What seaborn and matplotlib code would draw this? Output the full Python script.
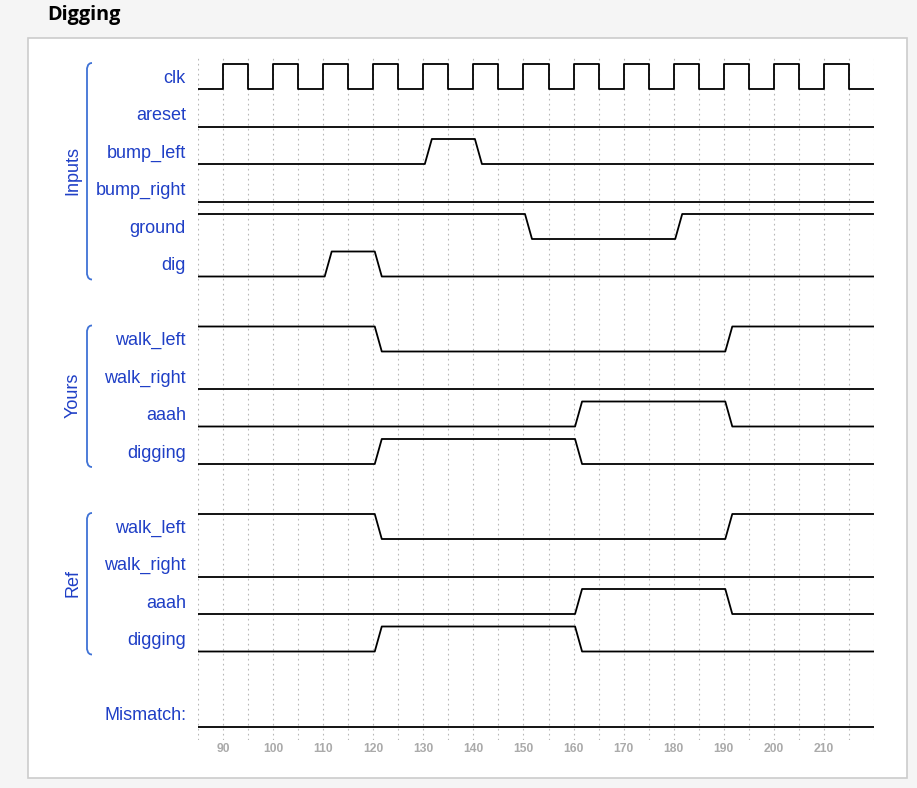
import numpy as np
import pandas as pd
import seaborn as sns
import matplotlib.pyplot as plt
from matplotlib.patches import Rectangle, PathPatch
from matplotlib.path import Path

# ---- data ----
clk_times = [90, 95, 100, 105, 110, 115, 120, 125, 130, 135, 140, 145, 150, 155,
             160, 165, 170, 175, 180, 185, 190, 195, 200, 205, 210, 215]

signal_names = ["clk", "areset", "bump_left", "bump_right", "ground", "dig",
                "walk_left", "walk_right", "aaah", "digging",
                "walk_left", "walk_right", "aaah", "digging",
                "Mismatch:"]
signal_rows = [0, 1, 2, 3, 4, 5, 7, 8, 9, 10, 12, 13, 14, 15, 17]
signal_init = [0, 0, 0, 0, 1, 0, 1, 0, 0, 0, 1, 0, 0, 0, 0]
signal_toggles = [clk_times, [], [130, 140], [], [150, 180], [110, 120],
                  [120, 190], [], [160, 190], [120, 160],
                  [120, 190], [], [160, 190], [120, 160],
                  []]
groups = ["Inputs", "Yours", "Ref"]
group_rows = [(0, 5), (7, 10), (12, 15)]

t_start, t_end = 85, 220
xtick_vals = [90, 100, 110, 120, 130, 140, 150, 160, 170, 180, 190, 200, 210]

AMP = 25 / 37.5      # height of a "1" in row units
ROW_PX = 37.5
ROW0_PX = 89         # pixel y of row 0 low level
LBL = "#1f3fc6"
BRC = "#3f72d6"

sns.set_style("white")
plt.rcParams["font.family"] = ["Liberation Sans", "DejaVu Sans"]

W, H = 917, 788
fig = plt.figure(figsize=(W / 100, H / 100), dpi=100)
fig.patch.set_facecolor("#f5f5f5")

# overlay axes in pixel coordinates for frame, title, braces
ov = fig.add_axes([0, 0, 1, 1], zorder=0)
ov.set_xlim(0, W)
ov.set_ylim(H, 0)
ov.axis("off")
ov.add_patch(Rectangle((27.5, 37.5), 879, 740, facecolor="white",
                       edgecolor="#cccccc", lw=1.2))
ov.text(47, 15, "Digging", fontsize=14.3, fontweight="bold", family="Open Sans",
        ha="left", va="center", color="black")

# build the waveform table
rows = []
for k, (name, r, v0, tog) in enumerate(zip(signal_names, signal_rows, signal_init, signal_toggles)):
    v = v0
    pts = [(t_start, v)]
    for t in tog:
        if name == "clk":
            pts.append((t, v))
            v = 1 - v
            pts.append((t, v))
        else:
            pts.append((t + 0.3, v))
            v = 1 - v
            pts.append((t + 1.7, v))
    pts.append((t_end, v))
    for i, (t, val) in enumerate(pts):
        rows.append({"sig": k, "order": i, "t": t, "y": r - val * AMP})
df = pd.DataFrame(rows)

top_px, bot_px = 58, 740
ax = fig.add_axes([198 / W, 1 - bot_px / H, (874 - 198) / W, (bot_px - top_px) / H], zorder=1)
ax.set_facecolor("none")
sns.lineplot(data=df, x="t", y="y", units="sig", estimator=None, sort=False,
             color="black", lw=1.3, ax=ax, legend=False)
ax.set_xlim(t_start, t_end)
ax.set_ylim((bot_px - ROW0_PX) / ROW_PX, (top_px - ROW0_PX) / ROW_PX)
ax.set_xticks(xtick_vals)
ax.set_xticks(np.arange(t_start, t_end + 1, 5), minor=True)
ax.set_yticks([])
ax.set_xlabel("")
ax.set_ylabel("")
ax.grid(True, which="both", axis="x", color="#b8b8b8", ls=(0, (1.5, 3)), lw=0.8)
ax.tick_params(axis="x", which="both", length=0, pad=2, labelsize=8.7,
               labelcolor="#aaaaaa")
for lab in ax.get_xticklabels():
    lab.set_fontweight("bold")
for s in ax.spines.values():
    s.set_visible(False)

# signal labels
for name, r in zip(signal_names, signal_rows):
    ax.text(-12 / 676, r - AMP / 2 + 0.05, name, transform=ax.get_yaxis_transform(),
            ha="right", va="center", fontsize=13, color=LBL)

# group braces and labels
for g, (r0, r1) in zip(groups, group_rows):
    y0 = ROW0_PX + ROW_PX * r0 - 26
    y1 = ROW0_PX + ROW_PX * r1 + 3
    verts = [(92, y0), (87, y0), (87, y0 + 6), (87, y0 + 6),
             (87, y1 - 6),
             (87, y1 - 6), (87, y1), (92, y1)]
    codes = [Path.MOVETO, Path.CURVE4, Path.CURVE4, Path.CURVE4,
             Path.LINETO,
             Path.CURVE4, Path.CURVE4, Path.CURVE4]
    ov.add_patch(PathPatch(Path(verts, codes), fill=False, edgecolor=BRC, lw=1.3))
    ov.text(73, (y0 + y1) / 2 - 1, g, rotation=90, ha="center", va="center",
            fontsize=13, color=LBL)

fig.savefig("out.png", dpi=100, facecolor=fig.get_facecolor())
